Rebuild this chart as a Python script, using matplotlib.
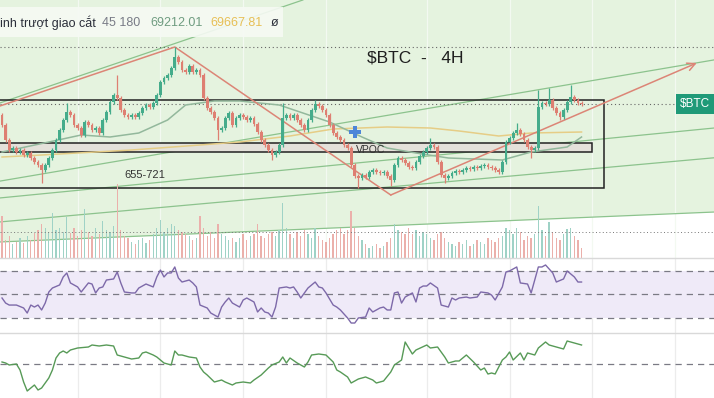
import numpy as np
import matplotlib.pyplot as plt
from matplotlib.patches import Rectangle
from matplotlib.lines import Line2D

plt.rcParams['font.family'] = ['Liberation Sans', 'DejaVu Sans']

# BTC 4H closes (open of a candle = close of the one before)
closes = [67520, 66320, 65520, 65680, 65360, 65520, 65120, 65280, 64880, 64560,
          64320, 63920, 64320, 64880, 65520, 66320, 67120, 67920, 68560, 68320,
          67520, 67280, 66720, 67760, 67520, 67120, 67280, 66880, 67920, 68560,
          69360, 69920, 69680, 68720, 68320, 68160, 68320, 68160, 68480, 68880,
          69120, 68960, 69280, 69920, 70960, 71280, 71520, 72080, 72960, 72560,
          71920, 71760, 72240, 71760, 71920, 71520, 69680, 68880, 68560, 68080,
          67120, 67280, 68080, 68480, 67520, 68080, 68320, 68160, 67920, 68080,
          67600, 66960, 66320, 65920, 65520, 65120, 65360, 65920, 68080, 68320,
          68080, 68320, 67920, 67520, 67120, 67920, 68720, 69200, 69040, 68720,
          68320, 67520, 66880, 66560, 66320, 65920, 65680, 64320, 63440, 63280,
          63520, 63360, 63760, 63920, 63760, 63680, 63760, 63440, 63120, 64320,
          64880, 64720, 64480, 64160, 64080, 64560, 65040, 65360, 65680, 65920,
          65760, 64560, 63520, 63280, 63440, 63680, 63840, 63760, 63920, 64080,
          64000, 64160, 64080, 64240, 64320, 64160, 64080, 63920, 63760, 64560,
          66160, 66480, 66880, 67120, 66800, 66320, 65760, 65520, 65680, 68960,
          69280, 69200, 69520, 68880, 68480, 68160, 68720, 69360, 69760, 69520,
          69280, 69212]
first_open = 68320
wick = 150
spike_high = {18: 69280, 32: 71520, 48: 73760, 78: 69280, 87: 69520, 119: 66480,
              143: 67680, 149: 70320, 152: 70480, 158: 70720}
spike_low = {11: 62880, 60: 66320, 75: 64720, 99: 62480, 108: 62640, 123: 62880,
             147: 64880, 155: 67920}

volumes = [4200, 1800, 2200, 1400, 1600, 2000, 1500, 2200, 1800, 2500,
           2800, 3400, 3000, 2600, 4500, 2800, 3000, 2600, 4100, 2500,
           3000, 2200, 2800, 4900, 2600, 2200, 3000, 2400, 3700, 2800,
           2600, 3200, 7400, 2800, 2200, 2000, 1600, 1400, 1800, 2000,
           1500, 1800, 2400, 3000, 3800, 2600, 3000, 3400, 3200, 2800,
           2600, 2400, 2200, 1800, 2000, 4200, 3000, 2200, 2600, 2000,
           3400, 2400, 2200, 1800, 2000, 1600, 2000, 2400, 1800, 2200,
           2400, 3400, 2200, 2000, 2400, 2600, 2200, 2800, 5500, 3000,
           2400, 2000, 2600, 2200, 2800, 2400, 2000, 3000, 2200, 1800,
           1600, 2000, 2400, 2800, 3000, 2400, 2800, 4700, 3000, 2200,
           1800, 1400, 1000, 1200, 1400, 1000, 1200, 1600, 2000, 3400,
           2800, 2600, 2400, 3000, 2400, 2800, 2200, 2600, 2400, 2000,
           1800, 2400, 2600, 2000, 1600, 1400, 1200, 1600, 1400, 1800,
           1200, 1400, 1800, 1600, 1400, 2000, 1800, 1600, 2000, 2200,
           3000, 2800, 2400, 3000, 2600, 1800, 2200, 2000, 2400, 5200,
           2800, 2200, 3600, 2600, 2000, 1800, 2400, 2900, 3000, 2200,
           1800, 1000]
vol_avg = 2600

# RSI (candle index, value)
rsi_idx = [0, 1, 2, 4, 6, 7, 8, 9, 10, 11, 12, 13, 14, 16, 17, 18, 19, 21, 22, 24,
           25, 26, 27, 28, 29, 31, 32, 33, 34, 36, 37, 38, 40, 42, 43, 44, 45, 46, 47, 48,
           49, 50, 52, 53, 54, 55, 57, 58, 60, 61, 62, 63, 64, 66, 67, 68, 70, 71, 72, 73,
           74, 75, 76, 77, 79, 80, 81, 82, 83, 85, 86, 87, 88, 89, 90, 92, 93, 94, 96, 97,
           98, 99, 101, 102, 103, 105, 106, 107, 108, 109, 110, 111, 112, 114, 115, 116, 117, 118, 119, 121,
           122, 124, 125, 126, 127, 129, 130, 132, 133, 135, 136, 137, 139, 140, 141, 143, 144, 146, 147, 149,
           150, 151, 153, 154, 156, 157, 159, 160, 161]
rsi_val = [46.6, 42.3, 40.6, 40.6, 38.1, 33.8, 40.6, 38.9, 40.6, 36.4, 42.3, 51.7, 55.1, 57.7, 64.5, 67.9, 59.4, 56.0, 51.7, 59.4,
           58.5, 50.9, 55.1, 56.0, 61.9, 62.8, 68.7, 59.4, 51.7, 50.9, 50.9, 55.1, 58.5, 56.0, 64.5, 70.4, 64.5, 67.9, 67.9, 73.0,
           63.6, 60.2, 61.9, 59.4, 56.0, 40.6, 38.1, 33.8, 30.4, 38.9, 43.2, 46.6, 42.3, 38.9, 44.9, 46.6, 43.2, 34.7, 38.1, 34.7,
           33.8, 30.4, 38.9, 55.1, 56.0, 55.1, 56.0, 51.7, 46.6, 55.1, 57.7, 60.2, 56.0, 55.1, 50.9, 40.6, 38.9, 36.4, 29.6, 25.3,
           25.3, 29.6, 30.4, 38.1, 34.7, 38.1, 38.9, 36.4, 36.4, 50.9, 51.7, 42.3, 47.4, 50.9, 43.2, 55.1, 56.8, 56.8, 59.4, 55.1,
           40.6, 38.9, 46.6, 44.9, 46.6, 47.4, 46.6, 47.4, 51.7, 50.9, 49.1, 44.9, 56.0, 68.7, 69.6, 73.0, 59.4, 58.5, 50.9, 73.0,
           73.0, 74.7, 67.9, 60.2, 62.8, 69.6, 64.5, 60.2, 60.2]

# bottom oscillator (candle index, value)
osc_idx = [0, 1, 2, 4, 5, 6, 7, 8, 9, 10, 11, 13, 14, 15, 16, 17, 18, 19, 21, 24,
           25, 27, 29, 31, 32, 34, 35, 36, 38, 39, 40, 42, 43, 44, 45, 47, 48, 49, 50, 52,
           54, 55, 56, 57, 59, 61, 62, 64, 65, 67, 69, 70, 72, 74, 75, 77, 78, 79, 80, 82,
           84, 85, 86, 88, 90, 92, 93, 94, 96, 97, 99, 101, 103, 104, 106, 108, 109, 111, 112, 114,
           115, 118, 119, 121, 122, 123, 124, 126, 127, 129, 131, 133, 134, 135, 136, 137, 139, 140, 141, 142,
           144, 145, 146, 148, 149, 151, 152, 154, 156, 157, 159, 161]
osc_val = [2, 1, -1, 0, -6, -18, -27, -24, -21, -26, -24, -14, -6, 6, 11, 13, 11, 14, 16, 17,
           19, 18, 19, 18, 9, 7, 6, 5, 6, 11, 12, 9, 7, 4, 1, -1, 13, 9, 9, 7,
           6, -3, -8, -11, -18, -16, -18, -21, -19, -18, -19, -16, -11, -4, -1, 2, 7, 1, 6, 1,
           -3, 2, 9, 10, 9, 2, -6, -8, -13, -19, -15, -13, -16, -19, -17, -8, -1, 4, 22, 10,
           14, 19, 16, 17, 12, 7, 1, 3, 3, 9, 2, -6, -4, -10, -9, -10, 4, 7, 12, 4,
           11, 4, 11, 9, 16, 22, 19, 17, 15, 23, 21, 19]

# moving averages 45 / 180
ma45_idx = [0, 13, 22, 30, 38, 46, 51, 59, 66, 77, 91, 100, 107, 115, 124, 139, 147, 157, 161]
ma45_val = [65360, 66160, 66720, 66560, 66880, 67920, 69120, 69440, 69440, 69120,
            67760, 66560, 65680, 65280, 64880, 64720, 65360, 65760, 66560]
ma180_idx = [0, 11, 36, 55, 66, 80, 92, 107, 119, 127, 138, 147, 161]
ma180_val = [64960, 65120, 65520, 65920, 66160, 66640, 67200, 67360, 67280, 67040,
             66640, 66880, 66960]

# drawings on the chart
green_lines = [((0, 69340), (80, 77170)), ((0, 63060), (150, 70390)),
               ((0, 61700), (150, 65930)), ((0, 59780), (150, 63660)),
               ((0, 58170), (150, 59980))]
red_idx = [-0.6, 48, 108, 193]
red_val = [69040, 73760, 61920, 72480]
range_box = (-2, 167.2, 62480, 69520)
vpoc_box = (-2, 163.9, 65360, 66080)
ath = 73760
last_price = 69212
grid_idx = [21, 44, 67, 90, 118, 141, 164, 187]

up_col, dn_col = '#45ac8b', '#de7f72'
red_draw = '#dc8576'

n = len(closes)
x = np.arange(n)
opens = [first_open] + closes[:-1]
highs = [spike_high.get(i, max(o, c) + wick) for i, (o, c) in enumerate(zip(opens, closes))]
lows = [spike_low.get(i, min(o, c) - wick) for i, (o, c) in enumerate(zip(opens, closes))]
cols = [up_col if c >= o else dn_col for o, c in zip(opens, closes)]
vcols = ['#9fd2c6' if c >= o else '#ebb0ab' for o, c in zip(opens, closes)]
body_lo = [min(o, c) for o, c in zip(opens, closes)]
body_h = [max(abs(c - o), 60) for o, c in zip(opens, closes)]

H = 398
fig = plt.figure(figsize=(7.14, 3.98), dpi=100)
ax = fig.add_axes([0, 1 - 258 / H, 1, 258 / H])
ax_rsi = fig.add_axes([0, 65 / H, 1, 75 / H])
ax_osc = fig.add_axes([0, 0, 1, 65 / H])
xl, xr = -0.56, 197.8
for a in (ax, ax_rsi, ax_osc):
    a.set_xlim(xl, xr)
    a.set_xticks([])
    a.set_yticks([])
    for s in a.spines.values():
        s.set_visible(False)

# main panel
ytop, ybot = 77520, 56880
ax.set_ylim(ybot, ytop)
(cx1, cy1), (cx2, cy2) = green_lines[-1]
k = (cy2 - cy1) / (cx2 - cx1)
ax.fill_between([xl, xr], [cy1 + k * (xl - cx1), cy1 + k * (xr - cx1)], ytop,
                color='#e5f3df', lw=0, zorder=0)
for g in grid_idx:
    ax.axvline(g, color='#f3f9f1', lw=0.9, zorder=0.5)
for p1, p2 in green_lines:
    ax.axline(p1, p2, color='#8cc38d', lw=0.9, zorder=1)

x0, x1, y0, y1 = vpoc_box
ax.add_patch(Rectangle((x0, y0), x1 - x0, y1 - y0, facecolor='#e4e1da', edgecolor='#222222', lw=1.1, zorder=2))
x0, x1, y0, y1 = range_box
ax.add_patch(Rectangle((x0, y0), x1 - x0, y1 - y0, facecolor='none', edgecolor='#222222', lw=1.1, zorder=2))

ax.axhline(ath, color='#666666', lw=0.8, ls=(0, (1, 2.5)), zorder=2)
ax.plot([xl, 187.5], [last_price, last_price], color='#666666', lw=0.8, ls=(0, (1, 2.5)), zorder=2)

ax.plot(ma180_idx, ma180_val, color='#e6cd86', lw=1.1, zorder=3)
ax.plot(ma45_idx, ma45_val, color='#93b89c', lw=1.1, zorder=3)

ax.plot(red_idx[:3], red_val[:3], color=red_draw, lw=1.1, zorder=3)
ax.annotate('', xy=(red_idx[3], red_val[3]), xytext=(red_idx[2], red_val[2]),
            arrowprops=dict(arrowstyle='->', color=red_draw, lw=1.1, shrinkA=0, shrinkB=0,
                            mutation_scale=14), zorder=3)

ax.vlines(x, lows, highs, colors=cols, lw=0.9, zorder=4)
ax.bar(x, body_h, bottom=body_lo, width=0.78, color=cols, lw=0, zorder=5)

ax.plot(98, 66960, marker='P', color='#4d86d8', ms=8, mew=0, zorder=6)
ax.text(39.7, 63520, '655-721', fontsize=8, color='#333333', ha='center', va='center', zorder=6)
ax.text(102.5, 65520, 'VPOC', fontsize=7.5, color='#333333', ha='center', va='center', zorder=6)

axv = ax.twinx()
axv.set_ylim(0, 25800)
axv.set_xlim(xl, xr)
axv.set_yticks([])
for s in axv.spines.values():
    s.set_visible(False)
axv.bar(x, volumes, width=0.38, color=vcols, lw=0, zorder=1)
axv.axhline(vol_avg, color='#777777', lw=0.7, ls=(0, (1, 2.5)))

# RSI panel
ax_rsi.set_ylim(16.81, 80.64)
for g in grid_idx:
    ax_rsi.axvline(g, color='#ececec', lw=0.9, zorder=0)
ax_rsi.axhspan(30, 70, color='#efeaf8', lw=0, zorder=0.5)
for lv in (70, 50, 30):
    ax_rsi.axhline(lv, color='#7a7a84', lw=0.9, ls=(0, (5, 4)), zorder=1)
ax_rsi.plot(rsi_idx, rsi_val, color='#7d69a9', lw=1.0, zorder=2)

# bottom oscillator panel
ax_osc.set_ylim(-34, 31)
for g in grid_idx:
    ax_osc.axvline(g, color='#ececec', lw=0.9, zorder=0)
ax_osc.axhline(0, color='#7a7a84', lw=0.9, ls=(0, (5, 4)), zorder=1)
ax_osc.plot(osc_idx, osc_val, color='#579a57', lw=1.0, zorder=2)

# panel separators
for yy in (258, 333):
    fig.add_artist(Line2D([0, 1], [1 - yy / H, 1 - yy / H], transform=fig.transFigure,
                          color='#d9d9d9', lw=1))

# legend header
fig.add_artist(Rectangle((0, 1 - 37 / H), 283 / 714, 30 / H, transform=fig.transFigure,
                         facecolor='#f6faf4', edgecolor='none', alpha=0.9))
hy = 1 - 23 / H
fig.text(0 / 714, hy, 'inh trượt giao cắt', fontsize=9, color='#2a2e39', va='center')
fig.text(102 / 714, hy, '45 180', fontsize=9, color='#787b86', va='center')
fig.text(150 / 714, hy, '69212.01', fontsize=9, color='#6f9c80', va='center')
fig.text(210 / 714, hy, '69667.81', fontsize=9, color='#e7bf55', va='center')
fig.text(271 / 714, hy, 'ø', fontsize=9, color='#2a2e39', va='center')

fig.text(415 / 714, 1 - 58 / H, '$BTC  -   4H', fontsize=12.5, color='#1f1f1f',
         ha='center', va='center', parse_math=False)
fig.text(695 / 714, 1 - 104 / H, '$BTC', fontsize=8.5, color='white', ha='center', va='center',
         parse_math=False, bbox=dict(boxstyle='square,pad=0.3', fc='#1f9a78', ec='none'))

fig.savefig('out.png', dpi=100)
